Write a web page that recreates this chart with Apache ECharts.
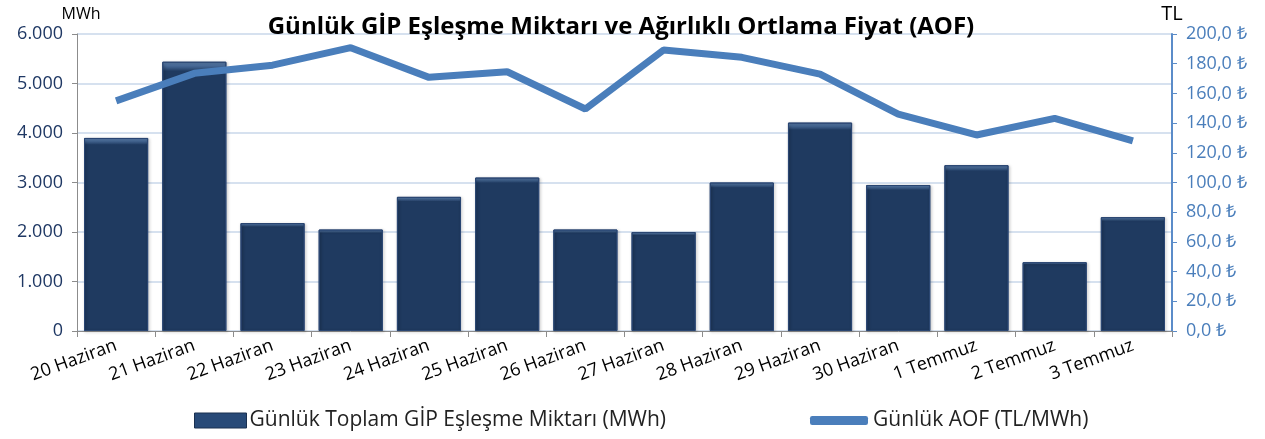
<!DOCTYPE html>
<html>
<head>
<meta charset="utf-8">
<script src="https://cdn.jsdelivr.net/npm/echarts@6/dist/echarts.min.js"></script>
<style>
  html, body { margin: 0; padding: 0; background: #fff; }
  #chart { width: 1265px; height: 439px; }
</style>
</head>
<body>
<div id="chart"></div>
<script>
// veriler
const days = ['20 Haziran', '21 Haziran', '22 Haziran', '23 Haziran', '24 Haziran', '25 Haziran', '26 Haziran',
  '27 Haziran', '28 Haziran', '29 Haziran', '30 Haziran', '1 Temmuz', '2 Temmuz', '3 Temmuz'];
const volume = [3900, 5440, 2180, 2050, 2710, 3100, 2050, 2000, 3000, 4210, 2950, 3350, 1390, 2300];
const aof = [155, 173.5, 179, 190.8, 170.8, 174.6, 149.5, 189.2, 184.3, 173, 146, 132, 143.2, 128];

const font = 'Open Sans';
const barName = 'Günlük Toplam GİP Eşleşme Miktarı (MWh)';
const lineName = 'Günlük AOF (TL/MWh)';

const barFill = new echarts.graphic.LinearGradient(0, 0, 0, 1, [
  { offset: 0, color: '#6386b4' },
  { offset: 0.012, color: '#4f73a2' },
  { offset: 0.035, color: '#1f3a60' },
  { offset: 1, color: '#1f3a60' }
]);

const chart = echarts.init(document.getElementById('chart'));
chart.setOption({
  backgroundColor: '#ffffff',
  textStyle: { fontFamily: font },
  title: {
    text: 'Günlük GİP Eşleşme Miktarı ve Ağırlıklı Ortlama Fiyat (AOF)',
    left: 616,
    textAlign: 'center',
    top: 10,
    textStyle: { fontFamily: font, fontSize: 24, fontWeight: 'bold', color: '#000' }
  },
  grid: { left: 77, right: 93, top: 34, bottom: 108 },
  legend: [
    {
      left: 189, top: 405,
      itemWidth: 52, itemHeight: 15, itemGap: 4,
      textStyle: { fontSize: 21, color: '#222', padding: [0, 0, 0, -2] },
      data: [{ name: barName, icon: 'rect', itemStyle: { color: '#284a78', borderColor: '#1a3050', borderWidth: 1 } }]
    },
    {
      left: 805, top: 405,
      itemWidth: 58, itemHeight: 9,
      textStyle: { fontSize: 21, color: '#222' },
      data: [{ name: lineName, icon: 'roundRect' }]
    }
  ],
  xAxis: {
    type: 'category',
    data: days,
    axisLine: { lineStyle: { color: '#8c8c8c' } },
    axisTick: { show: true, length: 6, lineStyle: { color: '#8c8c8c' } },
    axisLabel: { rotate: 20, fontSize: 18, color: '#000', interval: 0, margin: 14 }
  },
  yAxis: [
    {
      type: 'value',
      min: 0, max: 6000, interval: 1000,
      name: 'MWh', nameGap: 12,
      nameTextStyle: { fontSize: 16, color: '#000', align: 'center', padding: [0, 0, 0, 8] },
      axisLine: { show: true, lineStyle: { color: '#8c8c8c' } },
      axisTick: { show: true, length: 5 },
      axisLabel: {
        fontSize: 18, color: '#1f3864', margin: 14,
        formatter: v => v === 0 ? '0' : (v / 1000) + '.000'
      },
      splitLine: { lineStyle: { color: '#d6e1ef', width: 2 } }
    },
    {
      type: 'value',
      min: 0, max: 200, interval: 20,
      name: 'TL', nameGap: 10,
      nameTextStyle: { fontSize: 20, color: '#000', align: 'center' },
      axisLine: { show: true, lineStyle: { color: '#5b8cc9', width: 2 } },
      axisTick: { show: true, length: 5, lineStyle: { color: '#5b8cc9' } },
      axisLabel: {
        fontSize: 18, color: '#4a7ebb', margin: 14,
        formatter: v => v.toFixed(1).replace('.', ',') + ' ₺'
      },
      splitLine: { show: false }
    }
  ],
  series: [
    {
      name: barName,
      type: 'bar',
      data: volume,
      barCategoryGap: '18%',
      itemStyle: {
        color: barFill,
        borderColor: '#2a4672',
        borderWidth: 1,
        shadowColor: 'rgba(0,0,0,0.35)',
        shadowBlur: 3,
        shadowOffsetX: 1,
        shadowOffsetY: 1
      }
    },
    {
      name: lineName,
      type: 'line',
      yAxisIndex: 1,
      data: aof,
      symbol: 'none',
      lineStyle: { color: '#4a7ebb', width: 7 },
      itemStyle: { color: '#4a7ebb' }
    }
  ]
});
</script>
</body>
</html>
